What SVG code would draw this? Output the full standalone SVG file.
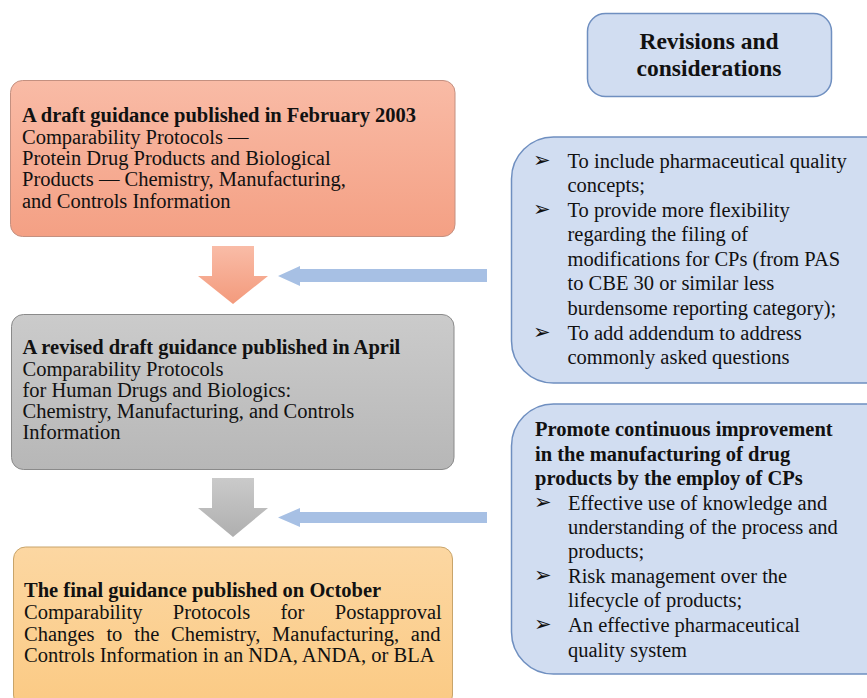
<svg xmlns="http://www.w3.org/2000/svg" width="867" height="698" viewBox="0 0 867 698">
<defs>
<linearGradient id="gSalmon" x1="0" y1="0" x2="0" y2="1"><stop offset="0" stop-color="#f9bba6"/><stop offset="1" stop-color="#f4a084"/></linearGradient>
<linearGradient id="gGray" x1="0" y1="0" x2="0" y2="1"><stop offset="0" stop-color="#cbcbcb"/><stop offset="1" stop-color="#b7b7b7"/></linearGradient>
<linearGradient id="gOrange" x1="0" y1="0" x2="0" y2="1"><stop offset="0" stop-color="#fcd7a2"/><stop offset="1" stop-color="#fbca84"/></linearGradient>
<linearGradient id="gArrS" x1="0" y1="0" x2="0" y2="1"><stop offset="0" stop-color="#f9bca7"/><stop offset="1" stop-color="#f39a7c"/></linearGradient>
<linearGradient id="gArrG" x1="0" y1="0" x2="0" y2="1"><stop offset="0" stop-color="#cacaca"/><stop offset="1" stop-color="#afafaf"/></linearGradient>
</defs>
<style>
text{font-family:"Liberation Serif","Times New Roman",serif;font-size:20.5px;fill:#111}
.b{font-weight:bold}
.h{font-weight:bold;font-size:23.5px;text-anchor:middle}
.bl{font-family:"DejaVu Sans",sans-serif;font-size:21px;font-weight:bold}
.blue{fill:#d1ddf1;stroke:#6f8fc0;stroke-width:1.5}
.barrow{fill:#a7c0e4}
</style>
<g id="connectors">
<path d="M212,246 H254 V276 H268 L233,304 L198,276 H212 Z" fill="url(#gArrS)"/>
<path d="M212,478 H254 V508 H268 L233,537 L198,508 H212 Z" fill="url(#gArrG)"/>
<path class="barrow" d="M487,269 V282 H300 V286 L278,276 L300,266 V269 Z"/>
<path class="barrow" d="M487,512 V523 H300 V527 L278,517.5 L300,508 V512 Z"/>
</g>
<g id="node-draft2003">
<rect x="10.5" y="80.5" width="444.5" height="156" rx="12" fill="url(#gSalmon)" stroke="#c49080" stroke-width="1"/>
<text class="b" x="22" y="122">A draft guidance published in February 2003</text>
<text x="22" y="143.5">Comparability Protocols —</text>
<text x="22" y="164.8">Protein Drug Products and Biological</text>
<text x="22" y="186.2">Products — Chemistry, Manufacturing,</text>
<text x="22" y="207.5">and Controls Information</text>
</g>
<g id="node-revised">
<rect x="11.5" y="314.5" width="442.5" height="155" rx="12" fill="url(#gGray)" stroke="#8a8a8a" stroke-width="1"/>
<text class="b" x="22.5" y="354">A revised draft guidance published in April</text>
<text x="22.5" y="375.5">Comparability Protocols</text>
<text x="22.5" y="396.8">for Human Drugs and Biologics:</text>
<text x="22.5" y="418">Chemistry, Manufacturing, and Controls</text>
<text x="22.5" y="439.3">Information</text>
</g>
<g id="node-final">
<rect x="13.5" y="547" width="439" height="160" rx="12" fill="url(#gOrange)" stroke="#c8a46a" stroke-width="1"/>
<text class="b" x="24" y="597.3">The final guidance published on October</text>
<text x="24" y="619.3" word-spacing="25.2">Comparability Protocols for Postapproval</text>
<text x="24" y="640.5" word-spacing="6.7">Changes to the Chemistry, Manufacturing, and</text>
<text x="24" y="661.7">Controls Information in an NDA, ANDA, or BLA</text>
</g>
<g id="node-header">
<rect class="blue" x="587.5" y="13.5" width="244" height="83" rx="18"/>
<text class="h" x="709" y="48.5">Revisions and</text>
<text class="h" x="709" y="75.5">considerations</text>
</g>
<g id="node-revisions">
<rect class="blue" x="511.5" y="137" width="400" height="246" rx="42"/>
<text class="bl" x="533" y="167">➢</text>
<text x="567.5" y="168.3">To include pharmaceutical quality</text>
<text x="567.5" y="191.8">concepts;</text>
<text class="bl" x="533" y="215.5">➢</text>
<text x="567.5" y="216.7">To provide more flexibility</text>
<text x="567.5" y="240.8">regarding the filing of</text>
<text x="567.5" y="265.7">modifications for CPs (from PAS</text>
<text x="567.5" y="290">to CBE 30 or similar less</text>
<text x="567.5" y="315">burdensome reporting category);</text>
<text class="bl" x="533" y="338.8">➢</text>
<text x="567.5" y="340">To add addendum to address</text>
<text x="567.5" y="364.3">commonly asked questions</text>
</g>
<g id="node-promote">
<rect class="blue" x="511.5" y="404" width="400" height="270" rx="42"/>
<text class="b" x="535" y="435.7">Promote continuous improvement</text>
<text class="b" x="535" y="460.7">in the manufacturing of drug</text>
<text class="b" x="535" y="485">products by the employ of CPs</text>
<text class="bl" x="534" y="508.8">➢</text>
<text x="568" y="510">Effective use of knowledge and</text>
<text x="568" y="534.2">understanding of the process and</text>
<text x="568" y="558.3">products;</text>
<text class="bl" x="534" y="582">➢</text>
<text x="568" y="583.3">Risk management over the</text>
<text x="568" y="607.3">lifecycle of products;</text>
<text class="bl" x="534" y="631">➢</text>
<text x="568" y="632.3">An effective pharmaceutical</text>
<text x="568" y="656.7">quality system</text>
</g>
</svg>
